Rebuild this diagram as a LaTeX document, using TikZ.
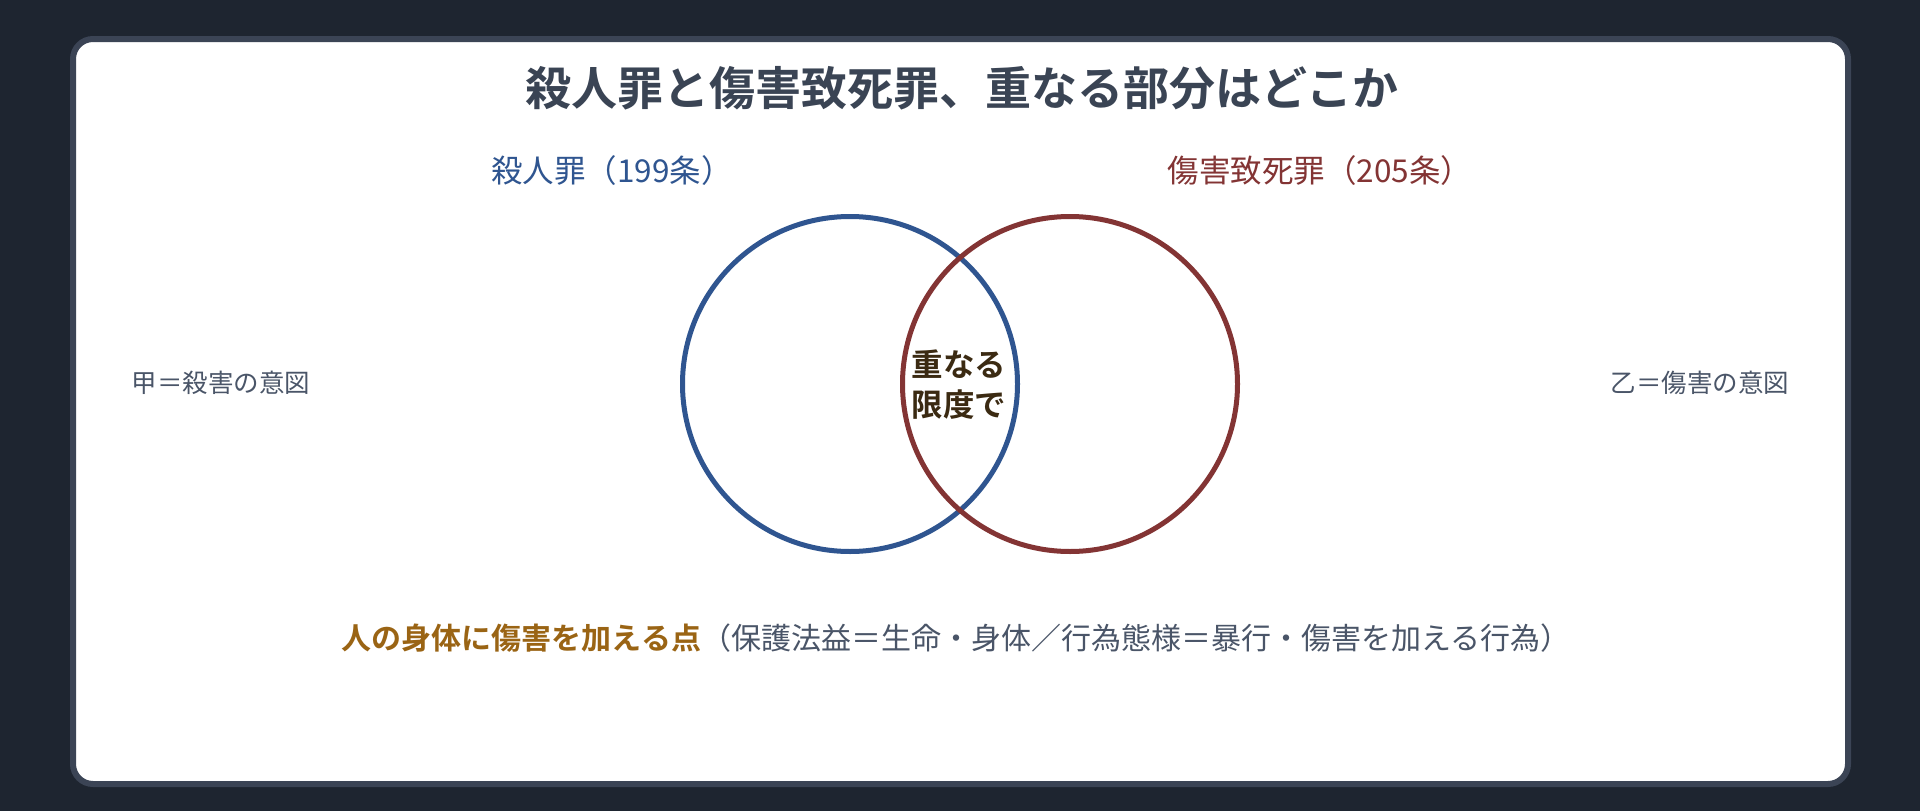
\documentclass[tikz,border=0pt]{standalone}
\usepackage{fontspec}
\setmainfont{Noto Sans CJK JP}[BoldFont={Noto Sans CJK JP Bold}]
\definecolor{bgc}{HTML}{1E2530}
\definecolor{cardedge}{HTML}{3B4455}
\definecolor{titlec}{HTML}{3A4454}
\definecolor{bluec}{HTML}{2F5590}
\definecolor{redc}{HTML}{833434}
\definecolor{grayc}{HTML}{4A5568}
\definecolor{orangec}{HTML}{9A6414}
\definecolor{brownc}{HTML}{3B2A12}
\tikzset{
  vcircle/.style={circle, draw, line width=5pt, minimum size=335pt, inner sep=0pt},
  lbl/.style={inner sep=0pt, anchor=center},
}
\begin{document}
\begin{tikzpicture}[x=1pt,y=-1pt]
\fill[bgc] (0,0) rectangle (1920,811);
\useasboundingbox (0,0) rectangle (1920,811);
\filldraw[fill=white, draw=cardedge, line width=6pt, rounded corners=20pt] (73,39) rectangle (1848,784);
\node[lbl, text=titlec, font=\bfseries\fontsize{46}{52}\selectfont] (title) at (962,88) {殺人罪と傷害致死罪、重なる部分はどこか};
\node[lbl, text=bluec, font=\fontsize{31.5}{36}\selectfont] (lefthead) at (612,171) {殺人罪（199条）};
\node[lbl, text=redc, font=\fontsize{31.5}{36}\selectfont] (righthead) at (1320,171) {傷害致死罪（205条）};
\node[vcircle, draw=bluec] (kill) at (850,384) {};
\node[vcircle, draw=redc] (harm) at (1070,384) {};
\node[lbl, text=brownc, font=\bfseries\fontsize{31.5}{40}\selectfont, align=center] (overlap) at (959,385) {重なる\\限度で};
\node[lbl, text=grayc, font=\fontsize{25.5}{30}\selectfont] (kou) at (221,383) {甲＝殺害の意図};
\node[lbl, text=grayc, font=\fontsize{25.5}{30}\selectfont] (otsu) at (1700,383) {乙＝傷害の意図};
\node[lbl, font=\fontsize{30}{36}\selectfont] (bottom) at (956,638) {\textcolor{orangec}{\bfseries 人の身体に傷害を加える点}\textcolor{grayc}{（保護法益＝生命・身体／行為態様＝暴行・傷害を加える行為）}};
\end{tikzpicture}
\end{document}
